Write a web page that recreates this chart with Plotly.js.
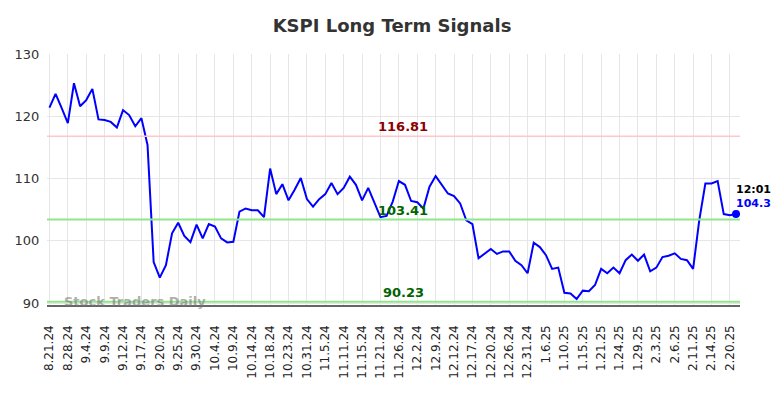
<!DOCTYPE html>
<html>
<head>
<meta charset="utf-8">
<script src="https://cdn.plot.ly/plotly-3.0.1.min.js"></script>
<style>html,body{margin:0;padding:0;background:#fff;}#chart{width:784px;height:398px;}</style>
</head>
<body>
<div id="chart"></div>
<script>
const dates = [
  "8.21.24","8.23.24","8.26.24","8.28.24","8.30.24","9.3.24","9.4.24","9.5.24","9.6.24",
  "9.9.24","9.10.24","9.11.24","9.12.24","9.13.24","9.16.24","9.17.24","9.18.24","9.19.24",
  "9.20.24","9.23.24","9.24.24","9.25.24","9.26.24","9.27.24","9.30.24","10.1.24","10.3.24",
  "10.4.24","10.7.24","10.8.24","10.9.24","10.10.24","10.11.24","10.14.24","10.16.24","10.17.24",
  "10.18.24","10.21.24","10.22.24","10.23.24","10.25.24","10.29.24","10.31.24","11.1.24","11.4.24",
  "11.5.24","11.7.24","11.8.24","11.11.24","11.13.24","11.14.24","11.15.24","11.19.24","11.20.24",
  "11.21.24","11.22.24","11.25.24","11.26.24","11.27.24","11.29.24","12.2.24","12.4.24","12.6.24",
  "12.9.24","12.10.24","12.11.24","12.12.24","12.13.24","12.16.24","12.17.24","12.18.24","12.19.24",
  "12.20.24","12.23.24","12.24.24","12.26.24","12.27.24","12.30.24","12.31.24","1.2.25","1.3.25",
  "1.6.25","1.8.25","1.9.25","1.10.25","1.13.25","1.14.25","1.15.25","1.16.25","1.17.25",
  "1.21.25","1.22.25","1.23.25","1.24.25","1.27.25","1.28.25","1.29.25","1.30.25","1.31.25",
  "2.3.25","2.4.25","2.5.25","2.6.25","2.7.25","2.10.25","2.11.25","2.12.25","2.13.25",
  "2.14.25","2.18.25","2.19.25","2.20.25","2.21.25"
];
const prices = [
  121.4,123.6,121.3,118.9,125.3,121.6,122.6,124.4,119.5,
  119.4,119.1,118.2,121.0,120.2,118.4,119.7,115.4,96.6,
  94.1,96.1,101.2,102.9,100.8,99.8,102.6,100.4,102.7,
  102.3,100.4,99.75,99.85,104.7,105.2,104.9,104.9,103.8,
  111.6,107.5,109.1,106.5,108.2,110.1,106.7,105.5,106.7,
  107.5,109.3,107.5,108.5,110.3,109.0,106.5,108.5,106.1,
  103.8,104.0,106.3,109.6,109.0,106.4,106.2,105.2,108.7,
  110.4,109.0,107.6,107.2,106.0,103.3,102.7,97.2,97.9,
  98.7,97.9,98.3,98.3,96.8,96.1,94.8,99.7,99.0,
  97.7,95.5,95.7,91.65,91.55,90.65,92.0,91.9,92.9,
  95.5,94.8,95.7,94.8,96.9,97.8,96.8,97.8,95.1,
  95.7,97.4,97.6,98.0,97.1,96.9,95.5,103.3,109.2,
  109.2,109.6,104.3,104.1,104.3
];
const tickLabels = [
  "8.21.24","8.28.24","9.4.24","9.9.24","9.12.24","9.17.24","9.20.24","9.25.24","9.30.24",
  "10.4.24","10.9.24","10.14.24","10.18.24","10.23.24","10.31.24","11.5.24","11.11.24","11.15.24",
  "11.21.24","11.26.24","12.2.24","12.9.24","12.12.24","12.17.24","12.20.24","12.26.24","12.31.24",
  "1.6.25","1.10.25","1.15.25","1.21.25","1.24.25","1.29.25","2.3.25","2.6.25","2.11.25",
  "2.14.25","2.20.25"
];
const resistance = 116.81;
const midLevel = 103.41;
const support = 90.23;
const lastTime = "12:01";
const lastPrice = 104.3;

const lastDate = dates[dates.length - 1];
const font = "DejaVu Sans, sans-serif";

const traces = [
  {x: dates, y: prices, type: "scatter", mode: "lines",
   line: {color: "#0000ff", width: 2}, hoverinfo: "skip"},
  {x: [lastDate], y: [lastPrice], type: "scatter", mode: "markers",
   marker: {color: "#0000ff", size: 8}, hoverinfo: "skip"}
];

const layout = {
  width: 784, height: 398,
  margin: {l: 47, r: 44, t: 54, b: 93},
  paper_bgcolor: "#fff", plot_bgcolor: "#fff",
  showlegend: false,
  title: {text: "<b>KSPI Long Term Signals</b>", x: 0.5, xanchor: "center", y: 0.935, yanchor: "middle",
          font: {family: font, size: 18, color: "#333"}},
  xaxis: {type: "category", range: [-0.4, 112.65], tickvals: tickLabels, ticktext: tickLabels,
          tickangle: -90, tickfont: {family: font, size: 12, color: "#222"},
          showgrid: true, gridcolor: "#e6e6e6", gridwidth: 1,
          showline: true, linecolor: "#666", linewidth: 1.5,
          ticks: "outside", ticklen: 14, tickcolor: "rgba(0,0,0,0)", zeroline: false},
  yaxis: {range: [89.7, 130], tickvals: [90, 100, 110, 120, 130],
          tickfont: {family: font, size: 13, color: "#333"},
          showgrid: true, gridcolor: "#e6e6e6", gridwidth: 1, zeroline: false,
          showline: false, ticks: "outside", ticklen: 4, tickcolor: "rgba(0,0,0,0)"},
  shapes: [
    {type: "line", xref: "paper", x0: 0, x1: 1, yref: "y", y0: resistance, y1: resistance,
     line: {color: "#ffc8c8", width: 1.5}},
    {type: "line", xref: "paper", x0: 0, x1: 1, yref: "y", y0: midLevel, y1: midLevel,
     line: {color: "#90e68a", width: 2}},
    {type: "line", xref: "paper", x0: 0, x1: 1, yref: "y", y0: support, y1: support,
     line: {color: "#90e68a", width: 2}}
  ],
  annotations: [
    {xref: "paper", x: 0.514, yref: "y", y: resistance, yanchor: "bottom", showarrow: false,
     text: "<b>" + resistance.toFixed(2) + "</b>", font: {family: font, size: 13, color: "#8b0000"}},
    {xref: "paper", x: 0.514, yref: "y", y: midLevel, yanchor: "bottom", showarrow: false,
     text: "<b>" + midLevel.toFixed(2) + "</b>", font: {family: font, size: 13, color: "#006400"}},
    {xref: "paper", x: 0.514, yref: "y", y: support, yanchor: "bottom", showarrow: false,
     text: "<b>" + support.toFixed(2) + "</b>", font: {family: font, size: 13, color: "#006400"}},
    {xref: "paper", x: 0.022, yref: "y", y: support, xanchor: "left", yanchor: "middle", showarrow: false,
     text: "<b>Stock Traders Daily</b>", font: {family: font, size: 13, color: "rgba(120,120,120,0.6)"}},
    {x: lastDate, y: lastPrice, xanchor: "left", yanchor: "bottom", yshift: 16, xshift: -2, showarrow: false,
     text: "<b>" + lastTime + "</b>", font: {family: font, size: 11, color: "#000"}},
    {x: lastDate, y: lastPrice, xanchor: "left", yanchor: "bottom", yshift: 2, xshift: -2, showarrow: false,
     text: "<b>" + lastPrice + "</b>", font: {family: font, size: 11, color: "#0000ff"}}
  ]
};

Plotly.newPlot("chart", traces, layout, {staticPlot: true, displayModeBar: false});
</script>
</body>
</html>
